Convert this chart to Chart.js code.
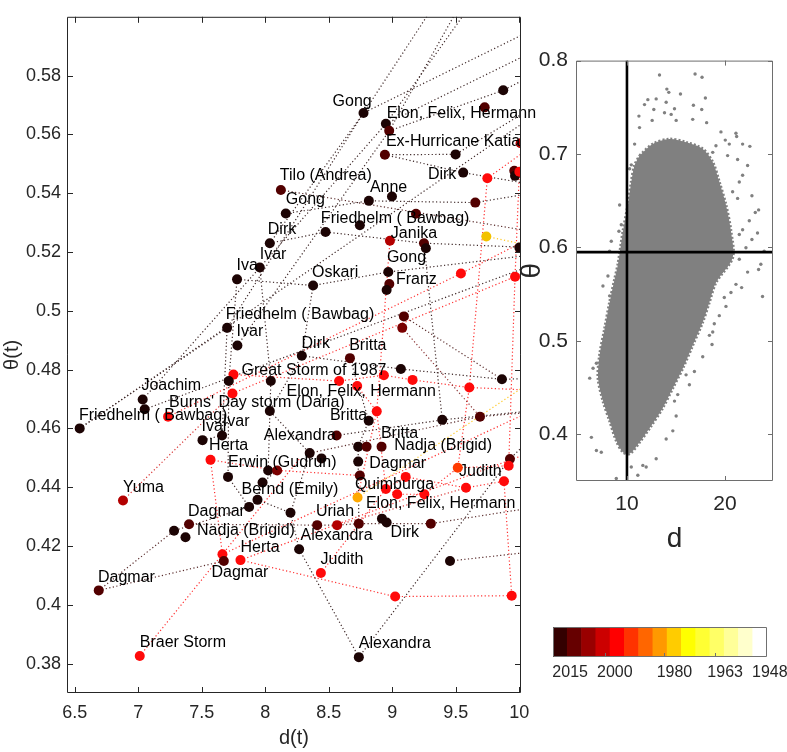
<!DOCTYPE html>
<html>
<head>
<meta charset="utf-8">
<script src="https://cdn.jsdelivr.net/npm/chart.js@4.4.1/dist/chart.umd.min.js"></script>
<style>
  html, body { margin: 0; padding: 0; background: #fff; }
  #wrap { position: relative; width: 787px; height: 752px; overflow: hidden; }
  canvas { position: absolute; }
  #main { left: 0; top: 0; }
  #inset { left: 520px; top: 40px; }
  #cbar { left: 540px; top: 610px; }
</style>
</head>
<body>
<div id="wrap">
  <canvas id="main" width="545" height="752"></canvas>
  <canvas id="inset" width="267" height="520"></canvas>
  <canvas id="cbar" width="247" height="80"></canvas>
</div>
<script>
// ---- main panel: storms, d(t) vs theta(t) ----
const stormD = [
  8.122, 8.161, 8.035, 8.773, 8.949, 8.975, 8.941, 9.498, 9.873, 9.727,
  10.01, 9.558, 9.748, 9.960, 9.966, 10.00, 9.653, 8.997, 8.815, 8.474,
  8.744, 9.186, 8.981, 9.249, 9.264, 9.740, 10.00, 7.956, 7.777, 7.699,
  7.780, 7.749, 7.712, 8.043, 7.741, 7.034, 7.050, 7.234, 8.035, 6.538,
  7.659, 7.505, 7.568, 8.561, 8.968, 8.976, 8.955, 8.376, 9.540, 9.966,
  9.091, 9.078, 8.287, 8.666, 9.067, 8.581, 8.933, 9.159, 9.606, 8.723,
  9.863, 8.814, 8.877, 9.393, 9.690, 8.731, 8.797, 8.915, 8.349, 8.442,
  9.926, 8.022, 8.093, 7.706, 7.978, 7.938, 7.872, 8.198, 6.879, 7.399,
  7.281, 7.371, 7.662, 7.673, 7.804, 8.266, 6.688, 7.011, 8.731, 8.744,
  8.726, 9.105, 8.949, 9.038, 9.252, 9.515, 9.580, 9.879, 9.916, 8.408,
  8.565, 8.736, 8.918, 8.955, 9.303, 8.437, 9.454, 9.022, 9.940, 8.736
];
const stormTheta = [
  0.5411, 0.5331, 0.5230, 0.5673, 0.5636, 0.5612, 0.5531, 0.5532, 0.5750, 0.5692,
  0.5570, 0.5470, 0.5451, 0.5476, 0.5459, 0.5473, 0.5368, 0.5389, 0.5374, 0.5268,
  0.5291, 0.5330, 0.5238, 0.5230, 0.5213, 0.5253, 0.5215, 0.5147, 0.5107, 0.4942,
  0.4882, 0.4783, 0.4761, 0.4761, 0.4719, 0.4698, 0.4665, 0.4640, 0.4659, 0.4600,
  0.4576, 0.4560, 0.4493, 0.4576, 0.5132, 0.5091, 0.5071, 0.5086, 0.5127, 0.5116,
  0.4981, 0.4942, 0.4847, 0.4839, 0.4802, 0.4761, 0.4781, 0.4765, 0.4739, 0.4744,
  0.4767, 0.4626, 0.4658, 0.4629, 0.4640, 0.4538, 0.4538, 0.4538, 0.4516, 0.4498,
  0.4496, 0.4457, 0.4457, 0.4435, 0.4416, 0.4357, 0.4333, 0.4313, 0.4355, 0.4274,
  0.4252, 0.4230, 0.4172, 0.4149, 0.4152, 0.4189, 0.4049, 0.3826, 0.4487, 0.4440,
  0.4365, 0.4435, 0.4394, 0.4376, 0.4376, 0.4466, 0.4398, 0.4420, 0.4473, 0.4271,
  0.4271, 0.4276, 0.4293, 0.4280, 0.4276, 0.4108, 0.4149, 0.4028, 0.4031, 0.3822
];
// colour bin of each storm (0 = most recent, see colour bar)
const stormBin = [
  1, 0, 0, 0, 0, 1, 1, 0, 0, 1,
  3, 0, 4, 1, 0, 4, 1, 0, 0, 0,
  0, 1, 3, 1, 0, 8, 0, 0, 0, 0,
  0, 4, 0, 0, 4, 0, 0, 4, 0, 0,
  0, 0, 4, 1, 0, 1, 0, 0, 4, 4,
  1, 2, 0, 1, 0, 4, 4, 4, 4, 4,
  0, 0, 4, 0, 1, 0, 1, 1, 0, 0,
  1, 0, 2, 0, 0, 0, 0, 0, 3, 1,
  0, 0, 4, 1, 4, 0, 1, 4, 0, 1,
  7, 4, 4, 4, 4, 5, 4, 4, 4, 1,
  3, 1, 0, 0, 1, 4, 0, 4, 4, 0
];

const labelText = [
  "Gong", "Elon, Felix, Hermann", "Ex-Hurricane Katia", "Dirk", "Tilo (Andrea)",
  "Anne", "Gong", "Friedhelm ( Bawbag)", "Dirk", "Janika",
  "Ivar", "Iva", "Gong", "Oskari", "Franz",
  "Friedhelm ( Bawbag)", "Ivar", "Dirk", "Britta", "Great Storm of 1987",
  "Joachim", "Elon, Felix, Hermann", "Burns' Day storm (Daria)", "Friedhelm ( Bawbag)", "Britta",
  "Ivar", "Ivar", "Alexandra", "Britta", "Nadja (Brigid)",
  "Herta", "Erwin (Gudrun)", "Dagmar", "Judith", "Quimburga",
  "Yuma", "Bernd (Emily)", "Elon, Felix, Hermann", "Dagmar", "Uriah",
  "Nadja (Brigid)", "Dirk", "Alexandra", "Herta", "Judith",
  "Dagmar", "Dagmar", "Braer Storm", "Alexandra"
];
const labelD = [
  8.529, 8.955, 8.949, 9.280, 8.114,
  8.823, 8.161, 8.437, 8.019, 8.988,
  7.956, 7.773, 8.957, 8.368, 9.028,
  7.688, 7.773, 8.285, 8.660, 7.812,
  7.024, 8.167, 7.242, 6.532, 8.508,
  7.665, 7.497, 7.988, 8.910, 9.015,
  7.557, 7.706, 8.818, 9.525, 8.705,
  6.879, 7.812, 8.792, 7.391, 8.398,
  7.462, 8.986, 8.277, 7.804, 8.435,
  7.576, 6.682, 7.011, 8.736
];
const labelTheta = [
  0.5713, 0.5672, 0.5577, 0.5462, 0.5460,
  0.5420, 0.5377, 0.5313, 0.5277, 0.5264,
  0.5191, 0.5155, 0.5180, 0.5129, 0.5105,
  0.4987, 0.4928, 0.4889, 0.4883, 0.4795,
  0.4745, 0.4725, 0.4687, 0.4645, 0.4645,
  0.4622, 0.4606, 0.4576, 0.4584, 0.4542,
  0.4540, 0.4484, 0.4479, 0.4453, 0.4409,
  0.4399, 0.4393, 0.4343, 0.4318, 0.4316,
  0.4252, 0.4244, 0.4235, 0.4193, 0.4155,
  0.4108, 0.4094, 0.3870, 0.3867
];

// dotted tracks joining successive states (some leave the axes)
const tracks = [
  [[6.538,0.46],[7.699,0.4942],[8.773,0.5673],[9.33,0.604]],
  [[6.538,0.46],[10.1,0.566]],
  [[7.034,0.4698],[7.956,0.5147],[8.949,0.5636],[9.6,0.603]],
  [[7.78,0.4882],[8.975,0.5612],[9.52,0.603]],
  [[7.05,0.4665],[10.1,0.5155]],
  [[8.035,0.523],[8.773,0.5673],[10.1,0.5955]],
  [[8.949,0.5636],[10.1,0.588]],
  [[8.975,0.5612],[9.873,0.575],[10.1,0.58]],
  [[8.941,0.5531],[9.498,0.5532],[10.1,0.569]],
  [[8.941,0.5531],[9.558,0.547],[10.1,0.543]],
  [[8.122,0.5411],[10.1,0.527]],
  [[8.161,0.5331],[8.815,0.5374],[9.653,0.5368],[10.1,0.54]],
  [[8.035,0.523],[8.474,0.5268],[9.249,0.523],[10.1,0.5215]],
  [[7.777,0.5107],[8.376,0.5086],[8.968,0.5132],[10.1,0.519]],
  [[7.956,0.5147],[8.043,0.4761],[8.022,0.4457]],
  [[7.777,0.5107],[7.712,0.4761],[7.706,0.4435],[7.872,0.4333]],
  [[7.699,0.4942],[7.659,0.4576],[7.505,0.456]],
  [[8.287,0.4847],[8.035,0.4659],[8.349,0.4516],[8.198,0.4313]],
  [[8.287,0.4847],[9.067,0.4802],[9.863,0.4767],[10.1,0.477]],
  [[8.376,0.5086],[8.287,0.4847]],
  [[8.666,0.4839],[8.814,0.4626],[8.731,0.4538],[8.731,0.4487],[8.736,0.4276]],
  [[8.266,0.4189],[8.736,0.3822],[9.926,0.4496],[10.1,0.457]],
  [[8.266,0.4189],[8.198,0.4313],[7.938,0.4357],[7.978,0.4416],[8.093,0.4457]],
  [[8.408,0.4271],[8.565,0.4271],[8.736,0.4276],[9.303,0.4276],[10.1,0.433]],
  [[9.454,0.4149],[10.1,0.418]],
  [[6.688,0.4049],[7.281,0.4252],[7.872,0.4333]],
  [[6.688,0.4049],[7.673,0.4149]],
  [[7.399,0.4274],[8.408,0.4271]],
  [[8.561,0.4576],[9.393,0.4629],[10.1,0.466]],
  [[8.349,0.4516],[9.69,0.464],[10.1,0.4655]],
  [[9.091,0.4981],[9.863,0.4767]],
  [[9.249,0.523],[9.393,0.4629]],
  [[9.078,0.4942],[9.69,0.464]],
  [[7.011,0.3826],[7.662,0.4172],[8.27,0.4497]],
  [[7.568,0.4493],[7.662,0.4172]],
  [[7.804,0.4152],[9.022,0.4028],[9.94,0.4031],[9.879,0.442]],
  [[8.437,0.4108],[8.949,0.4394],[9.105,0.4435]],
  [[6.879,0.4355],[7.741,0.4719]],
  [[7.568,0.4493],[8.093,0.4457],[8.744,0.444]],
  [[7.749,0.4783],[8.581,0.4761],[8.933,0.4781],[9.159,0.4765],[9.606,0.4739],[10.1,0.473]],
  [[7.234,0.464],[9.54,0.5127],[10.1,0.525]],
  [[7.741,0.4719],[9.966,0.5116],[10.1,0.514]],
  [[8.981,0.5238],[8.877,0.4658],[8.949,0.4394]],
  [[8.723,0.4744],[8.877,0.4658],[8.726,0.4365]],
  [[9.748,0.5451],[9.606,0.4739],[9.515,0.4466]],
  [[10.0,0.5473],[9.966,0.5116],[9.916,0.4473]],
  [[9.105,0.4435],[9.58,0.4398],[9.879,0.442]],
  [[8.949,0.4394],[9.038,0.4376],[9.252,0.4376],[9.515,0.4466],[9.916,0.4473]],
  [[9.748,0.5451],[10.1,0.556]],
  [[8.565,0.4271],[9.58,0.4398]],
  [[7.662,0.4172],[10.1,0.466]],
  [[7.804,0.4152],[10.1,0.452]],
  [[8.726,0.4365],[10.1,0.476]],
  [[9.74,0.5253],[10.1,0.522]]
];
const trackBin = [
  0, 0, 0, 0, 0, 0, 0, 0, 0, 0,
  1, 0, 0, 0, 0, 0, 0, 0, 0, 0,
  0, 0, 0, 1, 1, 1, 1, 1, 0, 1,
  1, 0, 2, 4, 4, 4, 4, 3, 4, 4,
  4, 4, 4, 4, 4, 4, 4, 4, 4, 3,
  4, 4, 8, 8
];

const xTicks = [6.5, 7, 7.5, 8, 8.5, 9, 9.5, 10];
const yTicks = [0.38, 0.40, 0.42, 0.44, 0.46, 0.48, 0.50, 0.52, 0.54, 0.56, 0.58];

// ---- inset: all (d, theta) pairs ----
// outline of the dense core of the cloud
const cloudD = [11.29, 12.64, 14.34, 16.03, 17.73, 18.75, 19.42, 20.10, 20.61, 20.78,
  19.08, 18.40, 17.73, 16.71, 15.70, 14.68, 13.66, 12.47, 11.28, 10.26,
  9.59, 8.91, 8.23, 7.56, 7.05, 7.21, 7.72, 8.23, 8.74, 9.08,
  9.59, 10.10, 10.44, 10.77, 11.29];
const cloudTheta = [0.6983, 0.7107, 0.7160, 0.7125, 0.7054, 0.6913, 0.6702, 0.6455, 0.6173, 0.5891,
  0.5624, 0.5412, 0.5201, 0.4953, 0.4707, 0.4496, 0.4284, 0.4091, 0.3914, 0.3791,
  0.3809, 0.3932, 0.4144, 0.4355, 0.4601, 0.4848, 0.5130, 0.5412, 0.5659, 0.5820,
  0.6173, 0.6455, 0.6702, 0.6877, 0.6983];
// scattered pairs outside the dense core
const fringeD = [
  13.32, 16.95, 17.66, 14.07, 14.27, 15.46, 18.00, 12.98, 12.13, 11.79,
  14.00, 16.78, 14.85, 12.74, 17.63, 11.22, 13.83, 14.51, 12.57, 15.02,
  16.71, 11.28, 18.13, 19.59, 21.12, 21.19, 20.44, 20.03, 21.80, 22.54,
  19.08, 18.75, 10.78, 20.27, 21.29, 22.31, 21.80, 21.46, 10.44, 10.27,
  9.25, 20.78, 21.29, 22.75, 23.43, 23.09, 22.48, 21.80, 23.32, 21.46,
  22.75, 22.14, 24.00, 21.46, 23.66, 8.40, 9.18, 9.42, 8.23,
  22.31, 23.43, 23.83, 21.70, 21.12, 20.61, 19.93, 20.10, 19.42, 18.91,
  18.75, 18.41, 18.68, 17.73, 16.88, 16.37, 16.03, 15.18, 14.85, 15.02,
  14.00, 14.68, 12.98, 11.96, 11.62, 11.11, 8.91, 10.44, 6.88, 6.37,
  7.38, 6.20, 6.54, 6.88, 7.55, 8.06, 8.23
];
const fringeTheta = [
  0.7846, 0.7857, 0.7822, 0.7695, 0.7660, 0.7642, 0.7600, 0.7590, 0.7582, 0.7529,
  0.7554, 0.7522, 0.7484, 0.7476, 0.7476, 0.7406, 0.7441, 0.7424, 0.7360, 0.7360,
  0.7371, 0.7283, 0.7336, 0.7237, 0.7223, 0.7188, 0.7106, 0.7149, 0.7106, 0.7082,
  0.7089, 0.7018, 0.7106, 0.6983, 0.6941, 0.6877, 0.6772, 0.6701, 0.6884, 0.6842,
  0.6455, 0.6596, 0.6525, 0.6553, 0.6402, 0.6374, 0.6285, 0.6190, 0.6155, 0.6138,
  0.6085, 0.5997, 0.5961, 0.5873, 0.5820, 0.6067, 0.6173, 0.6243, 0.5961,
  0.5736, 0.5764, 0.5475, 0.5570, 0.5605, 0.5517, 0.5464, 0.5369, 0.5270, 0.5183,
  0.5095, 0.5059, 0.4961, 0.4830, 0.4672, 0.4531, 0.4636, 0.4425, 0.4355, 0.4196,
  0.3949, 0.4037, 0.3738, 0.3650, 0.3667, 0.3562, 0.3527, 0.3650, 0.3826, 0.3967,
  0.3808, 0.4601, 0.4707, 0.4760, 0.5588, 0.5694, 0.5482
];
const refD = 10;
const refTheta = 0.595;
const insetXTicks = [10, 20];
const insetYTicks = [0.4, 0.5, 0.6, 0.7, 0.8];

// ---- colour bar ----
const cbYears = [2015, 2000, 1980, 1963, 1948];

// ---- styles ----
const FONT = "'Liberation Sans', Arial, Helvetica, sans-serif";
const AXIS = '#262626';
const hot15 = ['#330000', '#660000', '#990000', '#cc0000', '#ff0000', '#ff3300', '#ff6600', '#ff9900',
  '#ffcc00', '#ffff00', '#ffff33', '#ffff66', '#ffff99', '#ffffcc', '#ffffff'];
const dotColour = ['#1c0404', '#520000', '#7a0000', '#b30000', '#ff0a0a', '#ff3a00', '#ff6600', '#ffa800', '#f2c200'];
const trackColour = ['#3e2828', '#5a2c2c', '#8a3434', '#d83434', '#ff3030', '#ff5020', '#ff7020', '#ffb020', '#ffc825'];

const xy = (xs, ys) => xs.map((v, i) => ({ x: v, y: ys[i] }));

const boxTicks = {
  id: 'boxTicks',
  afterDraw(chart, args, o) {
    const { ctx, chartArea: a } = chart;
    ctx.save();
    ctx.strokeStyle = o.color;
    ctx.lineWidth = 1;
    ctx.beginPath();
    ctx.rect(a.left + 0.5, a.top + 0.5, a.width - 1, a.height - 1);
    ['x', 'y'].forEach(id => {
      const s = chart.scales[id];
      s.ticks.forEach(t => {
        const p = Math.round(s.getPixelForValue(t.value)) + 0.5;
        if (id === 'x') {
          ctx.moveTo(p, a.bottom); ctx.lineTo(p, a.bottom - o.len);
          ctx.moveTo(p, a.top); ctx.lineTo(p, a.top + o.len);
        } else {
          ctx.moveTo(a.left, p); ctx.lineTo(a.left + o.len, p);
          ctx.moveTo(a.right, p); ctx.lineTo(a.right - o.len, p);
        }
      });
    });
    ctx.stroke();
    ctx.restore();
  }
};

const stormLabels = {
  id: 'stormLabels',
  afterDatasetsDraw(chart) {
    const { ctx, scales: { x, y } } = chart;
    ctx.save();
    ctx.font = '16px ' + FONT;
    ctx.fillStyle = '#000';
    ctx.textAlign = 'left';
    ctx.textBaseline = 'middle';
    labelText.forEach((t, i) => {
      ctx.fillText(t, x.getPixelForValue(labelD[i]), y.getPixelForValue(labelTheta[i]));
    });
    ctx.restore();
  }
};

const trackSets = tracks.map((pts, i) => ({
  data: pts.map(p => ({ x: p[0], y: p[1] })),
  showLine: true,
  borderColor: trackColour[trackBin[i]],
  borderWidth: 1.2,
  borderDash: [1.2, 2.4],
  pointRadius: 0,
  clip: 0,
  order: 1
}));

new Chart(document.getElementById('main'), {
  type: 'scatter',
  data: {
    datasets: [{
      data: xy(stormD, stormTheta),
      pointRadius: 5,
      pointBorderWidth: 0,
      pointBackgroundColor: stormBin.map(b => dotColour[b]),
      clip: 0,
      order: 0
    }, ...trackSets]
  },
  options: {
    responsive: false,
    animation: false,
    devicePixelRatio: 1,
    layout: { padding: { top: 1, right: 24, left: 0, bottom: 0 } },
    plugins: {
      legend: { display: false },
      tooltip: { enabled: false },
      boxTicks: { color: AXIS, len: 6 }
    },
    scales: {
      x: {
        type: 'linear', min: 6.438, max: 10.013,
        grid: { display: false, drawTicks: false },
        border: { display: false },
        afterBuildTicks: s => { s.ticks = xTicks.map(v => ({ value: v })); },
        afterFit: s => { s.height = 59; },
        ticks: { padding: 9, autoSkip: false, maxRotation: 0, color: AXIS,
          font: { size: 18, family: FONT }, callback: v => String(v) },
        title: { display: true, text: 'd(t)', color: AXIS, font: { size: 20, family: FONT },
          padding: { top: 0, bottom: 2 } }
      },
      y: {
        type: 'linear', min: 0.37, max: 0.6,
        grid: { display: false, drawTicks: false },
        border: { display: false },
        afterBuildTicks: s => { s.ticks = yTicks.map(v => ({ value: v })); },
        afterFit: s => { s.width = 67; },
        ticks: { padding: 6, autoSkip: false, color: AXIS,
          font: { size: 18, family: FONT }, callback: v => String(+v.toFixed(2)) },
        title: { display: true, text: 'θ(t)', color: AXIS, font: { size: 20, family: FONT },
          padding: { top: 0, bottom: 0 } }
      }
    }
  },
  plugins: [boxTicks, stormLabels]
});

new Chart(document.getElementById('inset'), {
  type: 'scatter',
  data: {
    datasets: [{
      data: [{ x: refD, y: 0.35 }, { x: refD, y: 0.8 }],
      showLine: true, borderColor: '#000', borderWidth: 2.6, pointRadius: 0, order: 0
    }, {
      data: [{ x: 4.8, y: refTheta }, { x: 24.9, y: refTheta }],
      showLine: true, borderColor: '#000', borderWidth: 2.6, pointRadius: 0, order: 0
    }, {
      data: xy(fringeD, fringeTheta),
      pointRadius: 1.7, pointBorderWidth: 0, pointBackgroundColor: '#808080', order: 1
    }, {
      type: 'line',
      data: xy(cloudD, cloudTheta),
      borderColor: '#808080', borderWidth: 3, backgroundColor: '#808080',
      borderDash: [2, 2],
      fill: 'shape', tension: 0.3, pointRadius: 0, order: 2
    }]
  },
  options: {
    responsive: false,
    animation: false,
    devicePixelRatio: 1,
    layout: { padding: { top: 16, right: 14, left: 0, bottom: 0 } },
    plugins: {
      legend: { display: false },
      tooltip: { enabled: false },
      boxTicks: { color: '#6e6e6e', len: 5 }
    },
    scales: {
      x: {
        type: 'linear', min: 4.8, max: 24.9,
        grid: { display: false, drawTicks: false },
        border: { display: false },
        afterBuildTicks: s => { s.ticks = insetXTicks.map(v => ({ value: v })); },
        afterFit: s => { s.height = 79; },
        ticks: { padding: 11, autoSkip: false, maxRotation: 0, color: AXIS,
          font: { size: 21, family: FONT }, callback: v => String(v) },
        title: { display: true, text: 'd', color: AXIS, font: { size: 28, family: FONT },
          padding: { top: 0, bottom: 4 } }
      },
      y: {
        type: 'linear', min: 0.35, max: 0.8,
        grid: { display: false, drawTicks: false },
        border: { display: false },
        afterBuildTicks: s => { s.ticks = insetYTicks.map(v => ({ value: v })); },
        afterFit: s => { s.width = 56; },
        ticks: { padding: 8, autoSkip: false, color: AXIS,
          font: { size: 21, family: FONT }, callback: v => v.toFixed(1) },
        title: { display: true, text: 'θ', color: AXIS, font: { size: 28, family: FONT, lineHeight: 0.9 },
          padding: { top: 0, bottom: 0 } }
      }
    }
  },
  plugins: [boxTicks]
});

// colour bar: bins run from 2015 (left) to 1948 (right); position of a year in bin units
const yearToBin = yr => 0.5 + (2015 - yr) * 14 / 67;
const cbFrame = {
  id: 'cbFrame',
  afterDraw(chart) {
    const { ctx, chartArea: a } = chart;
    const s = chart.scales.x;
    // category scale with offset: value v maps to bin edge v + 0.5
    const px = yr => s.getPixelForValue(yearToBin(yr) - 0.5);
    ctx.save();
    ctx.strokeStyle = '#707070';
    ctx.lineWidth = 1;
    ctx.beginPath();
    ctx.rect(a.left + 0.5, a.top + 0.5, a.width - 1, a.height - 1);
    cbYears.slice(1, -1).forEach(yr => {
      const p = Math.round(px(yr)) + 0.5;
      ctx.moveTo(p, a.bottom); ctx.lineTo(p, a.bottom - 4);
    });
    ctx.stroke();
    // year labels sit a little right of their ticks, as in the original
    ctx.font = '16px ' + FONT;
    ctx.fillStyle = AXIS;
    ctx.textAlign = 'center';
    ctx.textBaseline = 'middle';
    cbYears.forEach(yr => {
      ctx.fillText(String(yr), px(yr) + 10, a.bottom + 16);
    });
    ctx.restore();
  }
};

new Chart(document.getElementById('cbar'), {
  type: 'bar',
  data: {
    labels: hot15.map((c, i) => i),
    datasets: [{
      data: hot15.map(() => 1),
      backgroundColor: hot15,
      borderWidth: 0,
      categoryPercentage: 1,
      barPercentage: 1
    }]
  },
  options: {
    responsive: false,
    animation: false,
    devicePixelRatio: 1,
    layout: { padding: { top: 17, right: 20, left: 13, bottom: 33 } },
    plugins: { legend: { display: false }, tooltip: { enabled: false } },
    scales: {
      x: { display: false },
      y: { display: false, min: 0, max: 1 }
    }
  },
  plugins: [cbFrame]
});
</script>
</body>
</html>
